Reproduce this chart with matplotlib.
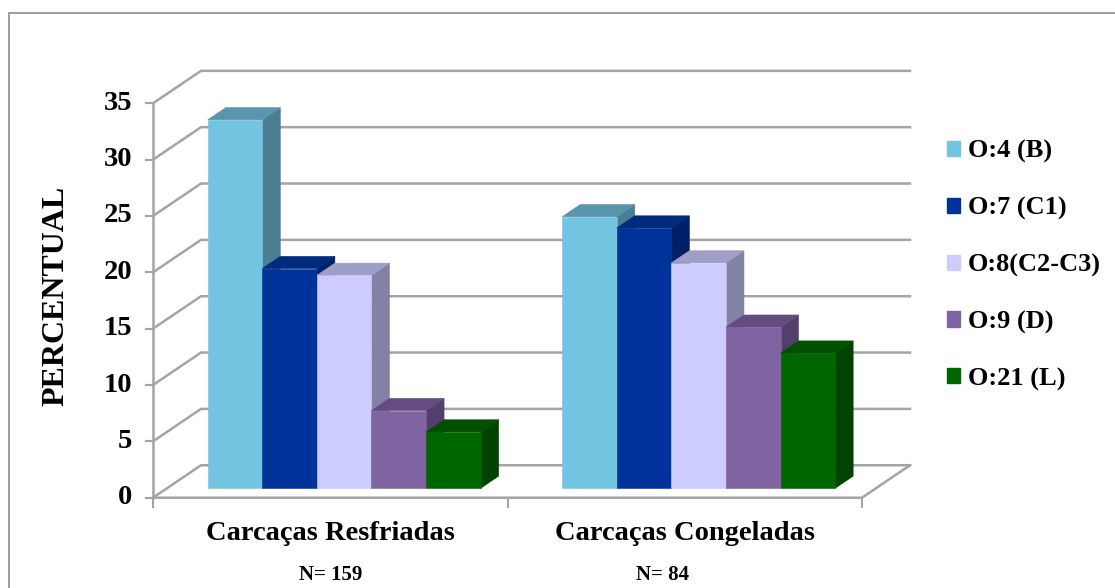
import matplotlib

matplotlib.use("Agg")
import matplotlib.pyplot as plt
from matplotlib.patches import Polygon, Patch, Rectangle
from matplotlib.transforms import blended_transform_factory

# serotype share per carcass type (%)
serotypes = ["O:4 (B)", "O:7 (C1)", "O:8(C2-C3)", "O:9 (D)", "O:21 (L)"]
groups = ["Carcaças Resfriadas", "Carcaças Congeladas"]
group_n = ["N= 159", "N= 84"]
resfriadas = [32.7, 19.5, 18.9, 6.9, 5.0]
congeladas = [24.1, 23.1, 20.0, 14.3, 12.0]
y_ticks = [0, 5, 10, 15, 20, 25, 30, 35]

# front, top and side shades for each series
front_colors = ["#72C4E1", "#00339A", "#CCCCFF", "#8064A2", "#006600"]
top_colors = ["#5796AE", "#002A7E", "#9E9EC6", "#654C80", "#005000"]
side_colors = ["#4A7E93", "#002068", "#8282A2", "#533F6B", "#004300"]

FONT = "Liberation Serif"
GRID = "#A4A4A4"

# oblique depth vector in data units (category, value)
DX, DY = 0.1354, 2.88
BAR_W = 0.154
D0, D1 = 0.29, 0.665


def pt(x, v, d):
    return (x + d * DX, v + d * DY)


fig = plt.figure(figsize=(11.15, 5.88), dpi=100)
ax = fig.add_axes([153 / 1115, 90.3 / 588, 709 / 1115, 394.4 / 588])
ax.set_xlim(0, 2)
ax.set_ylim(0, 35)
ax.axis("off")

# walls: back gridlines plus left-wall diagonals
for v in y_ticks:
    x0, y0 = pt(0, v, 0)
    x1, y1 = pt(0, v, 1)
    x2, y2 = pt(2, v, 1)
    ax.plot([x0, x1, x2], [y0, y1, y2], color=GRID, lw=1.8,
            solid_joinstyle="miter", clip_on=False, zorder=1)
    ax.plot([-0.02, 0], [v, v], color=GRID, lw=1.5, clip_on=False, zorder=1)

# floor front edge, right edge and category ticks
fx, fy = pt(2, 0, 1)
ax.plot([0, 2, fx], [0, 0, fy], color=GRID, lw=1.8, clip_on=False, zorder=1)
ax.plot([0, 0], [0, 35], color=GRID, lw=1.8, clip_on=False, zorder=1)
for c in [0, 1, 2]:
    ax.plot([c, c], [0, -0.8], color=GRID, lw=1.5, clip_on=False, zorder=1)


def draw_bar(x, v, i, z):
    xl, xr = x, x + BAR_W
    front = [pt(xl, 0, D0), pt(xr, 0, D0), pt(xr, v, D0), pt(xl, v, D0)]
    top = [pt(xl, v, D0), pt(xr, v, D0), pt(xr, v, D1), pt(xl, v, D1)]
    side = [pt(xr, 0, D0), pt(xr, 0, D1), pt(xr, v, D1), pt(xr, v, D0)]
    for poly, col in [(side, side_colors[i]), (top, top_colors[i]),
                      (front, front_colors[i])]:
        ax.add_patch(Polygon(poly, closed=True, facecolor=col, edgecolor=col,
                             lw=0.4, clip_on=False, zorder=z))


z = 3
for g, values in enumerate([resfriadas, congeladas]):
    start = g + 0.5 - BAR_W * len(values) / 2
    for i, v in enumerate(values):
        draw_bar(start + i * BAR_W, v, i, z)
        z += 1

# value axis labels
for v in y_ticks:
    ax.annotate(str(v), xy=(0, v), xytext=(-21, 0), textcoords="offset pixels",
                ha="right", va="center", fontsize=20.5, fontweight="bold",
                family=FONT)

ax.text(-0.275, 17.95, "PERCENTUAL", rotation=90, ha="center", va="center",
        fontsize=23, fontweight="bold", family=FONT, transform=ax.transData)

# category labels and sample sizes
bt = blended_transform_factory(ax.transData, fig.transFigure)
for g, name in enumerate(groups):
    ax.text(g + 0.5, 1 - 533 / 588, name, transform=bt, ha="center",
            va="center", fontsize=20.5, fontweight="bold", family=FONT)
fig.text(331 / 1115, 1 - 575 / 588, group_n[0], ha="center", va="center",
         fontsize=15, fontweight="bold", family=FONT)
fig.text(663 / 1115, 1 - 575 / 588, group_n[1], ha="center", va="center",
         fontsize=15, fontweight="bold", family=FONT)

handles = [Patch(facecolor=c, edgecolor=c, label=s)
           for c, s in zip(front_colors, serotypes)]
fig.legend(handles=handles, loc="upper left",
           bbox_to_anchor=(936 / 1115, 1 - 129 / 588), frameon=False,
           prop={"family": FONT, "weight": "bold", "size": 19},
           handlelength=0.5, handleheight=0.5, handletextpad=0.3,
           labelspacing=1.27, borderaxespad=0)

# chart frame
fig.patches.append(Rectangle((9 / 1115, -0.05), 1.1, 1.05 - 13 / 588,
                             transform=fig.transFigure, fill=False,
                             edgecolor="#8C8C8C", lw=1.2))

fig.savefig("out.png", dpi=100)
plt.close(fig)
